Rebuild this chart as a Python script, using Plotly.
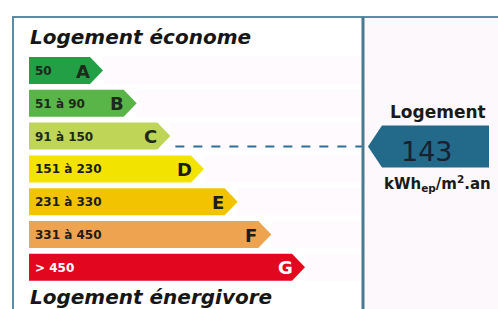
import plotly.graph_objects as go

# ---- data ----
classes = ["A", "B", "C", "D", "E", "F", "G"]
ranges = ["50", "51 à 90", "91 à 150", "151 à 230", "231 à 330", "331 à 450", "> 450"]
lower_bounds = [0, 51, 91, 151, 231, 331, 451]
upper_bounds = [50, 90, 150, 230, 330, 450, 600]
colors = ["#23a046", "#5ab548", "#bed558", "#f3e300", "#f2c300", "#eda34f", "#e2071f"]
label_colors = ["#1c2a1c", "#1c2a1c", "#1c2a1c", "#1c1c1c", "#1c1c1c", "#1c1c1c", "#ffffff"]
value = 143
top_title = "Logement économe"
bottom_title = "Logement énergivore"
box_title = "Logement"
unit = "kWh<sub>ep</sub>/m<sup>2</sup>.an"

# ---- layout constants (pixels) ----
W, H = 498, 309
X0 = 29
ROW_TOP0, ROW_STEP, ROW_H = 57, 32.8, 27
TIP0, TIP_STEP, TIP_DEPTH = 103, 33.67, 13
DIV_X = 363
TEAL = "#23698a"

fig = go.Figure()
shapes = []
annotations = []

# right panel faint background
shapes.append(dict(type="rect", xref="x", yref="y", x0=DIV_X, x1=W, y0=17, y1=H,
                   fillcolor="#fdf8fc", line=dict(width=0), layer="below"))

for i, (c, r, col, lc) in enumerate(zip(classes, ranges, colors, label_colors)):
    top = ROW_TOP0 + ROW_STEP * i
    bot = top + ROW_H
    mid = (top + bot) / 2
    tip = TIP0 + TIP_STEP * i
    body = tip - TIP_DEPTH
    # faint row band
    shapes.append(dict(type="rect", xref="x", yref="y", x0=tip, x1=DIV_X - 2, y0=top, y1=bot,
                       fillcolor="#fefafd", line=dict(width=0), layer="below"))
    fig.add_trace(go.Scatter(
        x=[X0, body, tip, body, X0, X0],
        y=[top, top, mid, bot, bot, top],
        fill="toself", fillcolor=col, mode="lines", line=dict(width=0, color=col),
        hoverinfo="skip", showlegend=False))
    annotations.append(dict(x=X0 + 4, y=mid + 0.5, xref="x", yref="y", text=r, showarrow=False,
                            xanchor="left", yanchor="middle",
                            font=dict(family="DejaVu Sans", size=12, color=lc, weight="bold")))
    annotations.append(dict(x=tip - 20, y=mid + 0.5, xref="x", yref="y", text=c, showarrow=False,
                            xanchor="center", yanchor="middle",
                            font=dict(family="DejaVu Sans", size=18, color=lc, weight="bold")))

# position of the value within its class band
k = next(i for i in range(len(classes)) if value <= upper_bounds[i])
frac = (value - (lower_bounds[k] - 1)) / (upper_bounds[k] - (lower_bounds[k] - 1))
vy = ROW_TOP0 + ROW_STEP * k + frac * ROW_H
vtip = TIP0 + TIP_STEP * k

# dashed connector
shapes.append(dict(type="line", xref="x", yref="y", x0=vtip + 5, x1=DIV_X, y0=vy, y1=vy,
                   line=dict(color="#2e6f98", width=2, dash="dash")))

# value arrow
ax_tip, ax_body, ax_end, half = 368, 382, 489, 21
fig.add_trace(go.Scatter(
    x=[ax_tip, ax_body, ax_end, ax_end, ax_body, ax_tip],
    y=[vy, vy - half, vy - half, vy + half, vy + half, vy],
    fill="toself", fillcolor=TEAL, mode="lines", line=dict(width=0, color=TEAL),
    hoverinfo="skip", showlegend=False))
annotations.append(dict(x=427, y=vy + 5, xref="x", yref="y", text=str(value), showarrow=False,
                        xanchor="center", yanchor="middle",
                        font=dict(family="DejaVu Sans", size=27, color="#17222e")))
annotations.append(dict(x=438, y=vy - 34, xref="x", yref="y", text=box_title, showarrow=False,
                        xanchor="center", yanchor="middle",
                        font=dict(family="DejaVu Sans", size=17, color="#1a1a1a", weight="bold")))
annotations.append(dict(x=437, y=vy + 37, xref="x", yref="y", text=unit, showarrow=False,
                        xanchor="center", yanchor="middle",
                        font=dict(family="DejaVu Sans", size=15, color="#1a1a1a", weight="bold")))

# titles
annotations.append(dict(x=X0 - 1, y=37, xref="x", yref="y", text=top_title, showarrow=False,
                        xanchor="left", yanchor="middle",
                        font=dict(family="DejaVu Sans", size=20, color="#161616",
                                  weight="bold", style="italic")))
annotations.append(dict(x=X0 - 1, y=297, xref="x", yref="y", text=bottom_title, showarrow=False,
                        xanchor="left", yanchor="middle",
                        font=dict(family="DejaVu Sans", size=20, color="#161616",
                                  weight="bold", style="italic")))

# frame
shapes.append(dict(type="line", xref="x", yref="y", x0=13, x1=W, y0=17, y1=17,
                   line=dict(color="#5b8ca3", width=2)))
shapes.append(dict(type="line", xref="x", yref="y", x0=13, x1=13, y0=16, y1=H,
                   line=dict(color="#5b8ca3", width=2)))
shapes.append(dict(type="line", xref="x", yref="y", x0=DIV_X, x1=DIV_X, y0=17, y1=H,
                   line=dict(color="#4a7a90", width=3)))

fig.update_layout(
    width=W, height=H, margin=dict(l=0, r=0, t=0, b=0),
    paper_bgcolor="white", plot_bgcolor="white",
    xaxis=dict(range=[0, W], visible=False, fixedrange=True),
    yaxis=dict(range=[H, 0], visible=False, fixedrange=True),
    shapes=shapes, annotations=annotations, showlegend=False,
)
fig.write_html("out.html", config={"displayModeBar": False},
               post_script="document.body.style.margin='0';document.body.style.overflow='hidden';")
